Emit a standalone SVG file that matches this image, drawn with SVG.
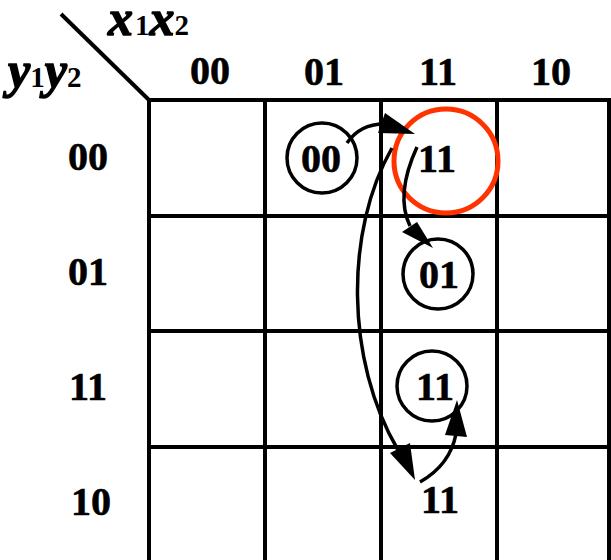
<svg xmlns="http://www.w3.org/2000/svg" width="611" height="560" viewBox="0 0 611 560">
<defs>
<style>
.lbl{font-family:"Liberation Serif","Times New Roman",serif;font-weight:bold;font-size:40px;text-anchor:middle;fill:#000;stroke:#000;stroke-width:0.6}
.var{font-family:"Liberation Serif","Times New Roman",serif;font-weight:bold;font-style:italic;font-size:50px;fill:#000;stroke:#000;stroke-width:1.4}
.sub{font-family:"Liberation Serif","Times New Roman",serif;font-weight:bold;font-size:29px;fill:#000}
.grid{stroke:#000;stroke-width:4;fill:none}
.node{fill:none;stroke:#000;stroke-width:3.5}
.edge{fill:none;stroke:#000;stroke-width:3.5}
</style>
</defs>
<rect width="611" height="560" fill="#fff"/>
<g id="grid">
<line class="grid" x1="61" y1="14" x2="149" y2="100"/>
<line class="grid" x1="149" y1="100" x2="611" y2="100"/>
<line class="grid" x1="149" y1="216" x2="611" y2="216"/>
<line class="grid" x1="149" y1="331" x2="611" y2="331"/>
<line class="grid" x1="149" y1="447" x2="611" y2="447"/>
<line class="grid" x1="149" y1="100" x2="149" y2="560"/>
<line class="grid" x1="265" y1="100" x2="265" y2="560"/>
<line class="grid" x1="381" y1="100" x2="381" y2="560"/>
<line class="grid" x1="497" y1="100" x2="497" y2="560"/>
<line class="grid" x1="609" y1="100" x2="609" y2="560"/>
</g>
<g id="axis-labels">
<text x="108" y="35"><tspan class="var">x</tspan><tspan class="sub" dx="2">1</tspan><tspan class="var">x</tspan><tspan class="sub">2</tspan></text>
<text x="8" y="87"><tspan class="var">y</tspan><tspan class="sub">1</tspan><tspan class="var">y</tspan><tspan class="sub">2</tspan></text>
<text class="lbl" x="210" y="84">00</text>
<text class="lbl" x="324" y="85">01</text>
<text class="lbl" x="438" y="85">11</text>
<text class="lbl" x="551" y="85">10</text>
<text class="lbl" x="88" y="170">00</text>
<text class="lbl" x="88" y="285">01</text>
<text class="lbl" x="88" y="400">11</text>
<text class="lbl" x="91" y="515">10</text>
</g>
<g id="n00">
<circle class="node" cx="322" cy="158" r="35"/>
<text class="lbl" x="321" y="172">00</text>
</g>
<g id="n11a">
<text class="lbl" x="437" y="172">11</text>
<circle cx="446" cy="161" r="52" fill="none" stroke="#ff3300" stroke-width="5"/>
</g>
<g id="n01">
<circle class="node" cx="438" cy="274" r="35"/>
<text class="lbl" x="439" y="288">01</text>
</g>
<g id="n11b">
<circle class="node" cx="432" cy="386" r="35"/>
<text class="lbl" x="435" y="400">11</text>
</g>
<g id="n11c">
<text class="lbl" x="440" y="513">11</text>
</g>
<g id="connectors">
<path class="edge" d="M347,143 Q360,124 384,124"/>
<polygon points="385,113 415,134 378,133"/>
<path class="edge" d="M417,147 Q395,195 410,226"/>
<polygon points="402,232 417,222 433,248"/>
<path class="edge" d="M392,148 C345,230 345,360 398,450"/>
<polygon points="390,453 410,443 415,480"/>
<path class="edge" d="M420,482 Q450,465 456,434"/>
<polygon points="445,435 467,437 457,400"/>
</g>
</svg>
